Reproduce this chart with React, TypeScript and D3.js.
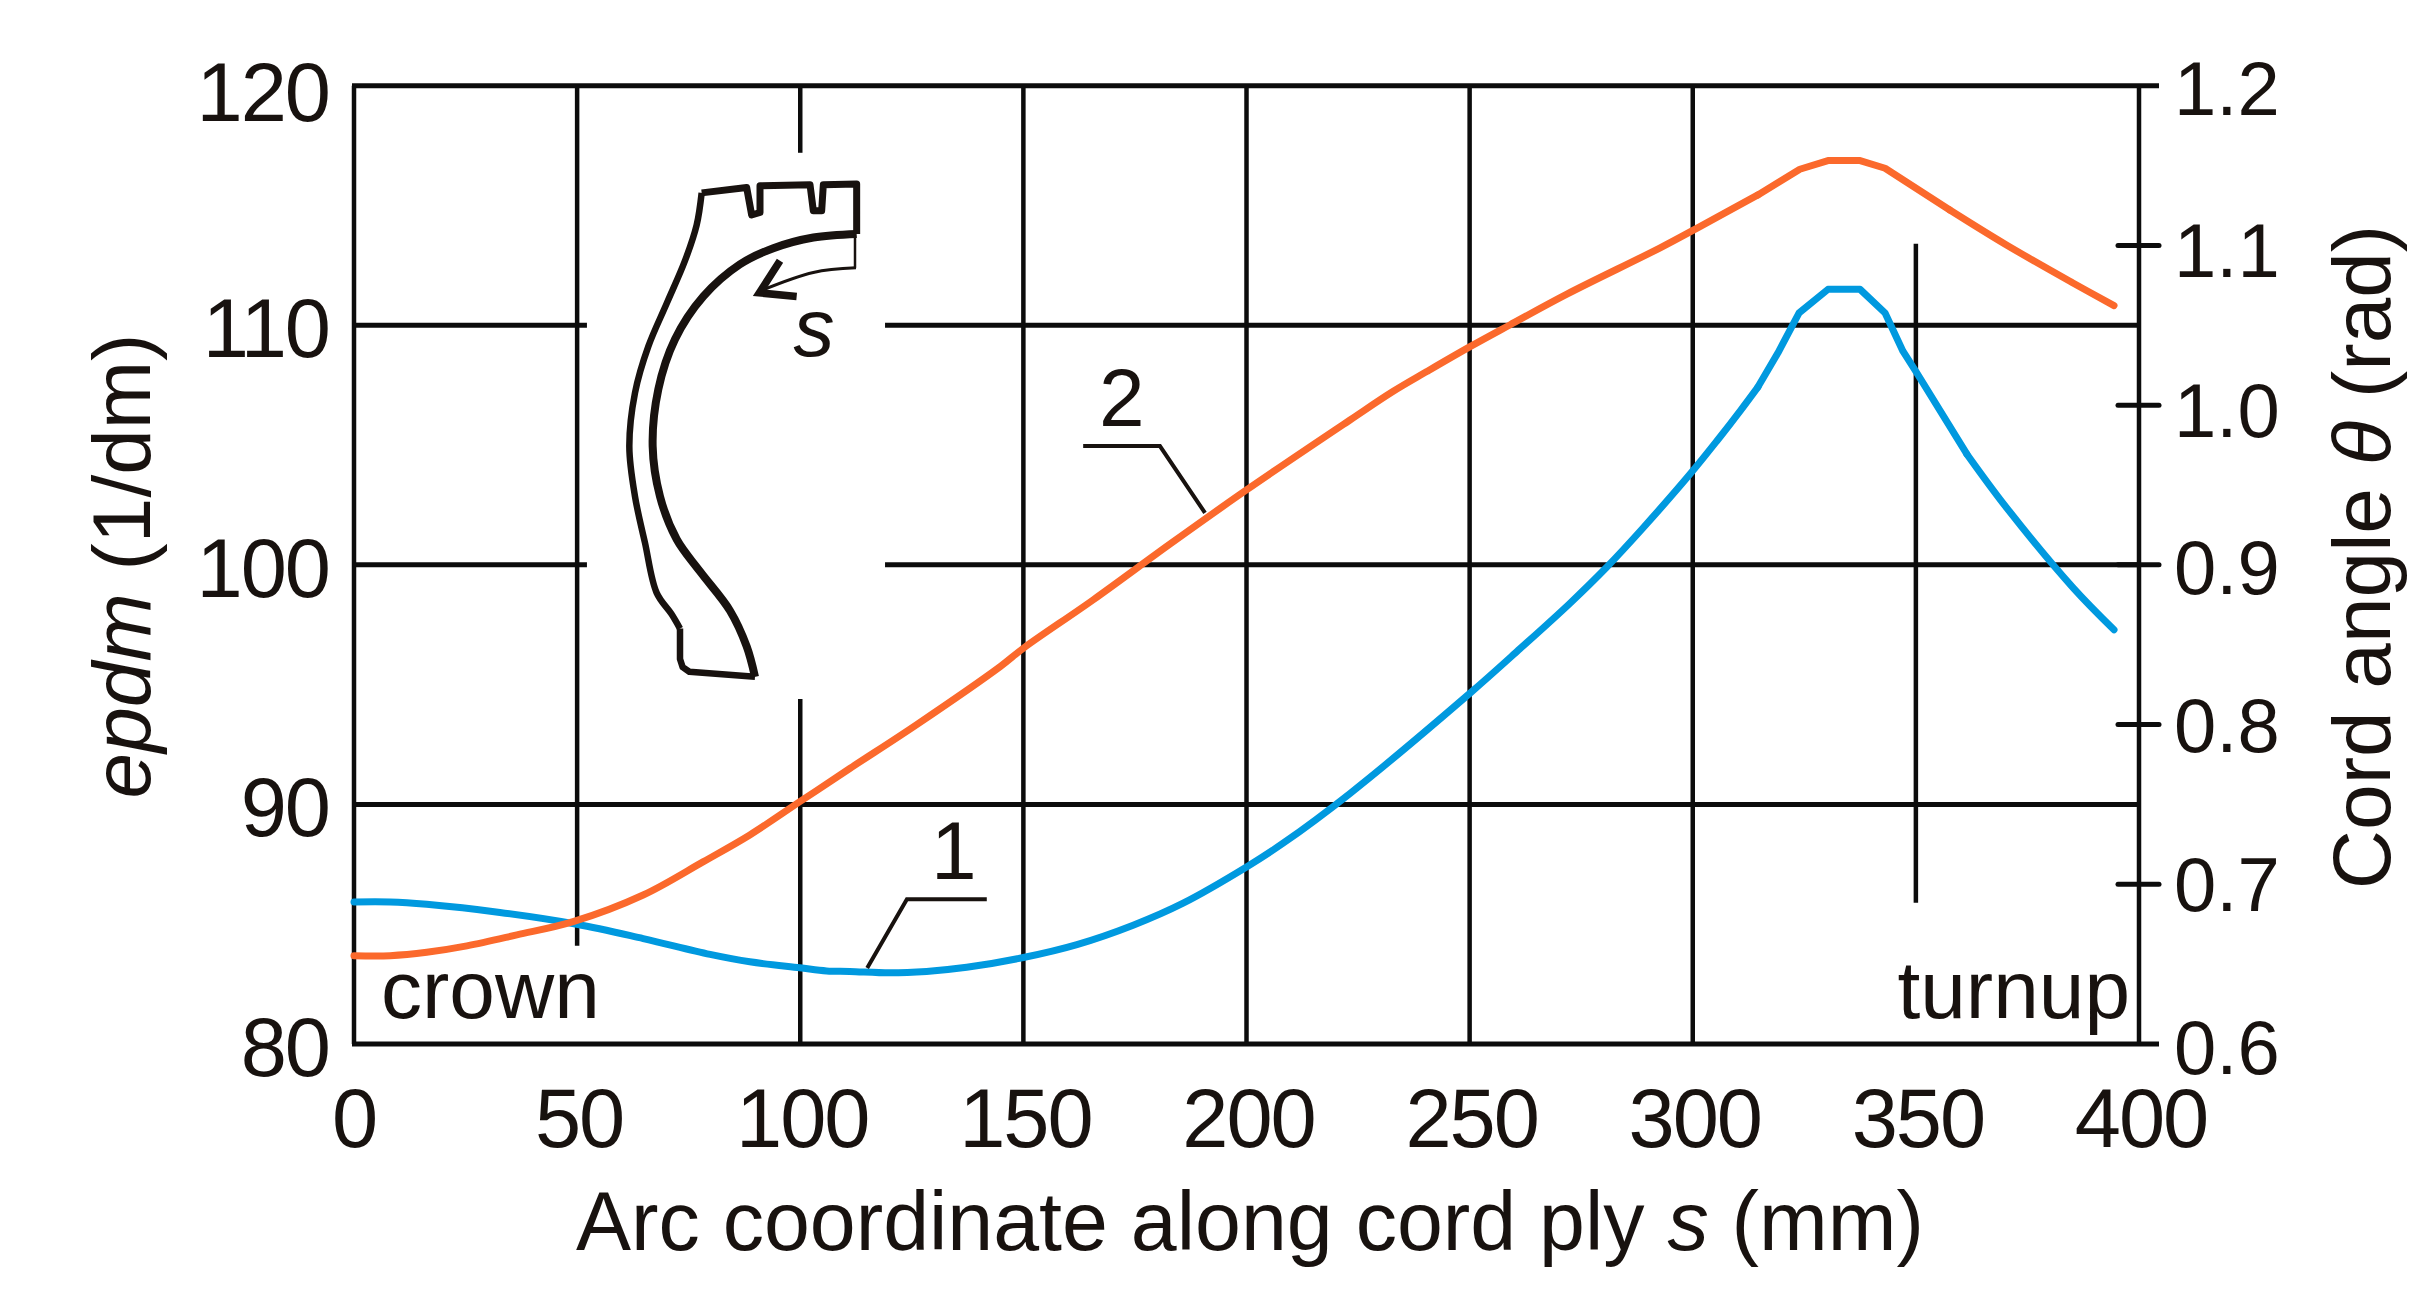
import React from "react";
import * as d3 from "d3";

const xTicks = [0, 50, 100, 150, 200, 250, 300, 350, 400];
const yLeftTicks = [80, 90, 100, 110, 120];
const yRightTicks = [0.6, 0.7, 0.8, 0.9, 1.0, 1.1, 1.2];

const curve1S = [0, 8.1, 16.3, 32.7, 49.9, 64.8, 79.8, 88.7, 99.9, 105.9, 111.1, 120.1, 128.3, 137.3, 150, 162, 174.6, 185.8, 200, 208.2, 223.2, 250, 261.3, 272.5, 280.7, 288.9, 299.4, 305.4, 310.6, 314.6, 319.1, 323.8, 330.3, 337.5, 343.1, 347.1, 350.2, 361.4, 370.3, 385.2, 394.4];
const curve1Epdm = [85.93, 85.93, 85.83, 85.49, 85.0, 84.4, 83.74, 83.43, 83.18, 83.05, 83.03, 82.97, 83.03, 83.2, 83.61, 84.15, 84.96, 85.88, 87.39, 88.38, 90.46, 94.63, 96.5, 98.4, 99.9, 101.55, 103.79, 105.17, 106.42, 107.42, 108.85, 110.51, 111.5, 111.5, 110.51, 108.92, 108.01, 104.63, 102.39, 99.05, 97.29];
const curve2S = [0, 8.1, 16.3, 25.3, 36.5, 49.1, 64.8, 78.3, 88.7, 99.9, 111.1, 126.1, 144.8, 150, 165.6, 182.9, 200, 223.2, 232.8, 240.4, 250.1, 259, 271.8, 292.7, 301.6, 314.6, 324, 330.3, 337.5, 343.1, 357.6, 370.3, 385.2, 394.4];
const curve2Theta = [0.6553, 0.6553, 0.6574, 0.6614, 0.6683, 0.6766, 0.6933, 0.7142, 0.7309, 0.7517, 0.7725, 0.8, 0.8363, 0.8478, 0.878, 0.9131, 0.9469, 0.9907, 1.0085, 1.021, 1.0366, 1.0502, 1.0695, 1.0985, 1.1118, 1.1316, 1.1477, 1.1531, 1.1531, 1.1483, 1.1222, 1.1003, 1.0765, 1.0623];

// grid segments in data units: [value, from, to]
const vGrid = [[50, 84.1, 120], [100, 80, 94.4], [100, 117.2, 120], [150, 80, 120], [200, 80, 120], [250, 80, 120], [300, 80, 120], [350, 85.9, 113.4]];
const hGrid = [[90, 0, 400], [100, 0, 52.2], [100, 119, 400], [110, 0, 52.2], [110, 119, 400]];

// callout leaders, in data units
const leader1: [number, number][] = [[115, 83.17], [123.9, 86.04], [141.8, 86.04]];
const leader2: [number, number][] = [[190.7, 102.17], [180.6, 104.96], [163.4, 104.96]];

// inset tyre cross-section, in its own drawing units
const tyreTop: [number, number][] = [[770, 235], [770, 95], [670, 97], [665, 170], [640, 170], [630, 97], [480, 100], [480, 175], [455, 182], [440, 105], [305, 120]];
const tyreOuter: [number, number][] = [[305, 120], [290, 210], [255, 310], [200, 430], [145, 550], [105, 680], [88, 830], [105, 970], [135, 1100], [170, 1240], [215, 1300], [240, 1340]];
const tyreBead: [number, number][] = [[240, 1340], [240, 1425], [248, 1448], [268, 1461], [465, 1475]];
const tyreInner: [number, number][] = [[465, 1475], [440, 1390], [390, 1290], [300, 1180], [230, 1090], [180, 970], [158, 830], [175, 670], [225, 530], [310, 410], [420, 320], [520, 275], [640, 245], [770, 235]];
const arrowShaft: [number, number][] = [[768, 330], [640, 343], [480, 395]];
const arrowHead: [number, number][] = [[540, 310], [478, 400], [590, 410]];
const arrowStem: [number, number][] = [[765, 240], [765, 330]];

const W = 2432, H = 1307;
const FONT = "'Liberation Sans', Arial, sans-serif";
const INK = "#18120f";
const LINE = "#0c0c0c";

const x = d3.scaleLinear().domain([0, 400]).range([354, 2139]);
const yL = d3.scaleLinear().domain([80, 120]).range([1044, 85.7]);
const yR = d3.scaleLinear().domain([0.6, 1.2]).range([1044, 85.7]);

const ix = d3.scaleLinear().domain([0, 900]).range([600, 900]);
const iy = d3.scaleLinear().domain([0, 1568]).range([150, 710]);
const poly = d3.line<[number, number]>().x(d => ix(d[0])).y(d => iy(d[1]));
const smooth = d3.line<[number, number]>().x(d => ix(d[0])).y(d => iy(d[1])).curve(d3.curveCatmullRom);
const dataLine = d3.line<[number, number]>().x(d => x(d[0])).y(d => yL(d[1]));

// the curves are smooth on the flanks and angular across the peak
const PEAK_FROM = 314;
const PEAK_TO = 351;
function curvePaths(ss: number[], vs: number[], y: (v: number) => number): string[] {
  const pts: [number, number][] = ss.map((s, i) => [x(s), y(vs[i])]);
  const a = ss.findIndex(s => s >= PEAK_FROM);
  let b = ss.findIndex(s => s >= PEAK_TO);
  if (b < 0) b = ss.length - 1;
  const soft = d3.line().curve(d3.curveCatmullRom.alpha(0.5));
  const hard = d3.line();
  return [soft(pts.slice(0, a + 1)) || "", hard(pts.slice(a, b + 1)) || "", soft(pts.slice(b)) || ""];
}

const FS = 82;
const TITLE_FS = 82.5;
const TICK_FS = 83;
const RIGHT_FS = 76;
// baseline nudges for the right-hand labels, bottom to top
const rightNudge = [29.6, 27, 27, 28.7, 31.5, 32, 29.5];

export default function App() {
  return (
    <svg width={W} height={H} viewBox={`0 0 ${W} ${H}`} style={{ position: "absolute", left: 0, top: 0, display: "block", background: "#fff" }} fontFamily={FONT} fill={INK}>
      {/* grid */}
      {vGrid.map(([v, a, b], i) => (
        <line key={"v" + i} x1={x(v)} x2={x(v)} y1={yL(a)} y2={yL(b)} stroke={LINE} strokeWidth={4.5} />
      ))}
      {hGrid.map(([v, a, b], i) => (
        <line key={"h" + i} x1={x(a)} x2={x(b)} y1={yL(v)} y2={yL(v)} stroke={LINE} strokeWidth={5} />
      ))}
      {/* frame */}
      <line x1={x(0)} x2={x(0)} y1={yL(80)} y2={yL(120)} stroke={LINE} strokeWidth={4.5} />
      <line x1={x(400)} x2={x(400)} y1={yL(80)} y2={yL(120)} stroke={LINE} strokeWidth={4.5} />
      <line x1={x(0) - 2} x2={x(400) + 20} y1={yL(120)} y2={yL(120)} stroke={LINE} strokeWidth={5} />
      <line x1={x(0) - 2} x2={x(400) + 20} y1={yL(80)} y2={yL(80)} stroke={LINE} strokeWidth={5} />
      {/* right ticks */}
      {yRightTicks.slice(1, -1).map(t => (
        <line key={t} x1={x(400) - 21} x2={x(400) + 20} y1={yR(t)} y2={yR(t)} stroke={LINE} strokeWidth={5} strokeLinecap="round" />
      ))}
      {/* curves */}
      {curvePaths(curve1S, curve1Epdm, yL).map((d, i) => (
        <path key={"c1" + i} d={d} fill="none" stroke="#0099df" strokeWidth={7} strokeLinejoin="round" strokeLinecap="round" />
      ))}
      {curvePaths(curve2S, curve2Theta, yR).map((d, i) => (
        <path key={"c2" + i} d={d} fill="none" stroke="#fb692c" strokeWidth={7} strokeLinejoin="round" strokeLinecap="round" />
      ))}
      {/* leaders */}
      <path d={dataLine(leader1) || ""} fill="none" stroke={INK} strokeWidth={4} />
      <path d={dataLine(leader2) || ""} fill="none" stroke={INK} strokeWidth={4} />
      <text x={931} y={879} fontSize={FS}>1</text>
      <text x={1099} y={426} fontSize={FS}>2</text>
      {/* inset */}
      <g fill="none" stroke={INK} strokeLinejoin="round">
        <path d={poly(tyreTop) || ""} strokeWidth={7} />
        <path d={smooth(tyreOuter) || ""} strokeWidth={6.5} />
        <path d={poly(tyreBead) || ""} strokeWidth={6.5} />
        <path d={smooth(tyreInner) || ""} strokeWidth={8} />
        <path d={smooth(arrowShaft) || ""} strokeWidth={3} />
        <path d={poly(arrowStem) || ""} strokeWidth={2.5} />
        <path d={poly(arrowHead) || ""} strokeWidth={7.5} strokeLinejoin="miter" />
      </g>
      <text x={814} y={356} fontSize={FS} fontStyle="italic" textAnchor="middle">s</text>
      <text x={381} y={1018} fontSize={FS}>crown</text>
      <text x={2130} y={1018} fontSize={FS} textAnchor="end">turnup</text>
      {/* tick labels */}
      {xTicks.map(t => (
        <text key={t} x={x(t) + (t === 0 ? 0 : 2)} y={1147} fontSize={TICK_FS} letterSpacing={-2} textAnchor="middle">{t}</text>
      ))}
      {yLeftTicks.map(t => (
        <text key={t} x={329} y={yL(t) + (t === 120 ? 35 : 32)} fontSize={TICK_FS} letterSpacing={-2} textAnchor="end">{t}</text>
      ))}
      {yRightTicks.map((t, i) => (
        <text key={t} x={2174} y={yR(t) + rightNudge[i]} fontSize={RIGHT_FS}>{t.toFixed(1)}</text>
      ))}
      {/* axis titles */}
      <text x={1250} y={1250} fontSize={TITLE_FS} textAnchor="middle">
        Arc coordinate along cord ply <tspan fontStyle="italic">s</tspan> (mm)
      </text>
      <text transform="translate(150,566) rotate(-90)" fontSize={FS} textAnchor="middle">
        <tspan fontStyle="italic">epdm</tspan> (1/dm)
      </text>
      <text transform="translate(2390,557) rotate(-90)" fontSize={FS} textAnchor="middle">
        Cord angle <tspan fontStyle="italic">θ</tspan> (rad)
      </text>
    </svg>
  );
}
